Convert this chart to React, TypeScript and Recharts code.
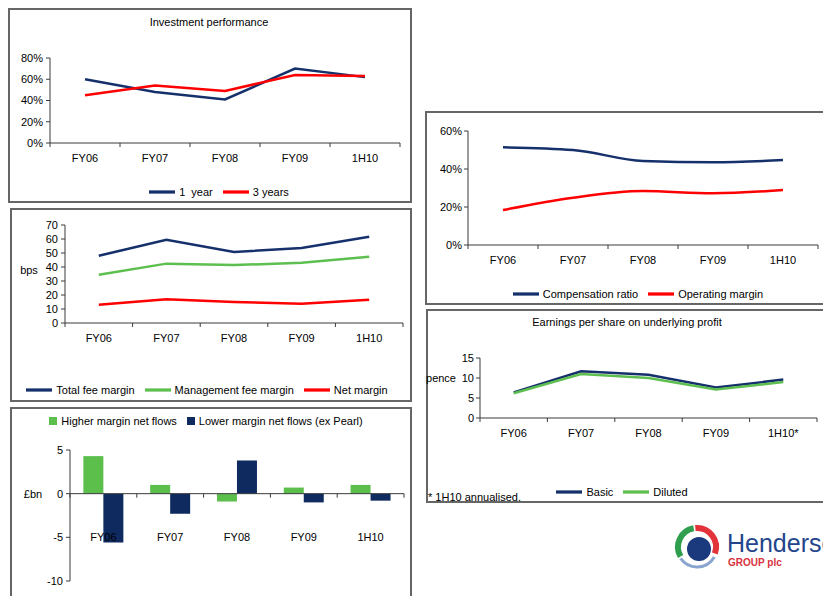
import React from "react";
import {
  Bar,
  BarChart,
  Legend,
  Line,
  LineChart,
  ReferenceLine,
  XAxis,
  YAxis,
} from "recharts";

const FONT = '"Liberation Sans", Arial, sans-serif';
const NAVY = "#16306c";
const RED = "#ff0000";
const GREEN = "#5dbf4f";
const BAR_GREEN = "#5cbf4c";
const BAR_NAVY = "#0e2a5f";
const AXIS = "#3a3a3a";
const BORDER = "#666666";

// categories
const years = ["FY06", "FY07", "FY08", "FY09", "1H10"];
const epsYears = ["FY06", "FY07", "FY08", "FY09", "1H10*"];

// investment performance (%)
const perf1Year = [60, 48, 41, 70, 62];
const perf3Years = [45, 54, 49, 64, 63];
const perfTicks = [0, 20, 40, 60, 80];

// margins (bps)
const totalFeeMargin = [48, 59.5, 50.7, 53.6, 61.6];
const mgmtFeeMargin = [34.5, 42.4, 41.4, 43, 47.3];
const netMargin = [13, 17, 15, 13.8, 16.6];
const bpsTicks = [0, 10, 20, 30, 40, 50, 60, 70];

// net flows (£bn)
const higherFlows = [4.3, 1.0, -0.9, 0.7, 1.0];
const lowerFlows = [-5.6, -2.3, 3.8, -1.0, -0.8];
const flowTicks = [-10, -5, 0, 5];

// ratios (%)
const compRatio = [51.4, 50, 44.2, 43.5, 44.7];
const opMargin = [18.4, 24.9, 28.4, 27.2, 28.9];
const ratioTicks = [0, 20, 40, 60];

// EPS (pence)
const epsBasic = [6.4, 11.7, 10.8, 7.6, 9.6];
const epsDiluted = [6.2, 11.0, 10.0, 7.1, 9.0];
const epsTicks = [0, 5, 10, 15];

const perfData = years.map((y, i) => ({ y, one: perf1Year[i], three: perf3Years[i] }));
const marginData = years.map((y, i) => ({
  y,
  total: totalFeeMargin[i],
  mgmt: mgmtFeeMargin[i],
  net: netMargin[i],
}));
const flowData = years.map((y, i) => ({ y, hi: higherFlows[i], lo: lowerFlows[i] }));
const ratioData = years.map((y, i) => ({ y, comp: compRatio[i], op: opMargin[i] }));
const epsData = epsYears.map((y, i) => ({ y, basic: epsBasic[i], diluted: epsDiluted[i] }));

// legend order = series order
const seriesOrder = ["one", "three", "total", "mgmt", "net", "hi", "lo", "comp", "op", "basic", "diluted"];
const byOrder = (item: any) => seriesOrder.indexOf(String(item.dataKey));

type Box = { L: number; T: number; W: number; H: number };
type Plot = { l: number; t: number; r: number; b: number };

const XH = 20;

function geom(box: Box, plot: Plot) {
  return {
    width: box.W,
    height: box.H,
    margin: {
      top: plot.t - box.T,
      right: box.L + box.W - plot.r,
      bottom: box.T + box.H - plot.b - XH,
      left: 0,
    },
    yWidth: plot.l - box.L,
    half: (plot.r - plot.l) / 10,
  };
}

function CatTick(props: any) {
  const { x, y, payload, index, half, dy, lineDy = 0 } = props;
  return (
    <g>
      <line x1={x - half} x2={x - half} y1={y + lineDy} y2={y + lineDy + 4} stroke={AXIS} />
      {index === 4 && (
        <line x1={x + half} x2={x + half} y1={y + lineDy} y2={y + lineDy + 4} stroke={AXIS} />
      )}
      <text
        x={x}
        y={y + dy}
        textAnchor="middle"
        dominantBaseline="central"
        fontSize={11}
        fontFamily={FONT}
        fill="#000"
      >
        {payload.value}
      </text>
    </g>
  );
}

const tickFont = { fontSize: 11, fontFamily: FONT, fill: "#000" };

const legendText = (value: string) => (
  <span style={{ color: "#000", fontSize: 11, fontFamily: FONT, whiteSpace: "pre" }}>{value}</span>
);

function legendStyle(box: Box, cx: number, cy: number) {
  return {
    top: cy - box.T - 13,
    left: cx - box.L - 200,
    width: 400,
    lineHeight: "26px",
  };
}

function Frame({ box, children }: { box: Box; children: React.ReactNode }) {
  return (
    <div
      style={{
        position: "absolute",
        left: box.L,
        top: box.T,
        width: box.W,
        height: box.H,
      }}
    >
      <div
        style={{
          position: "absolute",
          inset: 0,
          border: `2px solid ${BORDER}`,
          boxSizing: "border-box",
          pointerEvents: "none",
        }}
      />
      <div style={{ position: "absolute", left: 0, top: 0 }}>{children}</div>
    </div>
  );
}

function Txt({
  x,
  y,
  anchor = "middle",
  children,
}: {
  x: number;
  y: number;
  anchor?: "start" | "middle" | "end";
  children: React.ReactNode;
}) {
  const tx = anchor === "start" ? "0" : anchor === "end" ? "-100%" : "-50%";
  return (
    <div
      style={{
        position: "absolute",
        left: x,
        top: y,
        transform: `translate(${tx}, -50%)`,
        whiteSpace: "nowrap",
        fontSize: 11,
        fontFamily: FONT,
        color: "#000",
        lineHeight: "13px",
      }}
    >
      {children}
    </div>
  );
}

const box1: Box = { L: 8, T: 8, W: 404, H: 195 };
const plot1: Plot = { l: 50, t: 58, r: 400, b: 143 };
const box2: Box = { L: 10, T: 208, W: 402, H: 194 };
const plot2: Plot = { l: 65, t: 225, r: 403, b: 323 };
const box3: Box = { L: 10, T: 407, W: 402, H: 200 };
const plot3: Plot = { l: 70, t: 450, r: 404, b: 581 };
const box4: Box = { L: 425, T: 111, W: 410, H: 194 };
const plot4: Plot = { l: 468, t: 131, r: 818, b: 245 };
const box5: Box = { L: 426, T: 309, W: 410, H: 194 };
const plot5: Plot = { l: 480, t: 358, r: 817, b: 418 };

function PerfChart() {
  const g = geom(box1, plot1);
  return (
    <LineChart width={g.width} height={g.height} data={perfData} margin={g.margin}>
      <XAxis
        dataKey="y"
        scale="band"
        interval={0}
        height={XH}
        tickSize={0}
        tickMargin={0}
        stroke={AXIS}
        tick={(p: any) => <CatTick {...p} half={g.half} dy={15} />}
      />
      <YAxis
        width={g.yWidth}
        domain={[0, 80]}
        ticks={perfTicks}
        interval={0}
        tickFormatter={(v: number) => `${v}%`}
        tickSize={4}
        tickMargin={3}
        stroke={AXIS}
        tick={tickFont}
      />
      <Legend
        layout="horizontal"
        verticalAlign="middle"
        align="center"
        iconType="plainline"
        iconSize={26}
        itemSorter={byOrder}
        formatter={legendText}
        wrapperStyle={legendStyle(box1, 224, 191)}
      />
      <Line dataKey="one" name="1  year" stroke={NAVY} strokeWidth={2.5} dot={false} isAnimationActive={false} />
      <Line dataKey="three" name="3 years" stroke={RED} strokeWidth={2.5} dot={false} isAnimationActive={false} />
    </LineChart>
  );
}

function MarginChart() {
  const g = geom(box2, plot2);
  return (
    <LineChart width={g.width} height={g.height} data={marginData} margin={g.margin}>
      <XAxis
        dataKey="y"
        scale="band"
        interval={0}
        height={XH}
        tickSize={0}
        tickMargin={0}
        stroke={AXIS}
        tick={(p: any) => <CatTick {...p} half={g.half} dy={15} />}
      />
      <YAxis
        width={g.yWidth}
        domain={[0, 70]}
        ticks={bpsTicks}
        interval={0}
        tickSize={4}
        tickMargin={3}
        stroke={AXIS}
        tick={tickFont}
      />
      <Legend
        layout="horizontal"
        verticalAlign="middle"
        align="center"
        iconType="plainline"
        iconSize={26}
        itemSorter={byOrder}
        formatter={legendText}
        wrapperStyle={legendStyle(box2, 212, 389)}
      />
      <Line dataKey="total" name="Total fee margin" stroke={NAVY} strokeWidth={2.5} dot={false} isAnimationActive={false} />
      <Line dataKey="mgmt" name="Management fee margin" stroke={GREEN} strokeWidth={2.5} dot={false} isAnimationActive={false} />
      <Line dataKey="net" name="Net margin" stroke={RED} strokeWidth={2.5} dot={false} isAnimationActive={false} />
    </LineChart>
  );
}

function FlowChart() {
  const g = geom(box3, plot3);
  const plotH = plot3.b - plot3.t;
  const zeroUp = (plotH * 10) / 15;
  return (
    <BarChart
      width={g.width}
      height={g.height}
      data={flowData}
      margin={g.margin}
      barCategoryGap="20%"
      barGap={0}
    >
      <XAxis
        dataKey="y"
        interval={0}
        height={XH}
        tickSize={0}
        tickMargin={0}
        axisLine={false}
        tick={(p: any) => <CatTick {...p} half={g.half} dy={-44} lineDy={-zeroUp} />}
      />
      <YAxis
        width={g.yWidth}
        domain={[-10, 5]}
        ticks={flowTicks}
        interval={0}
        tickSize={4}
        tickMargin={3}
        stroke={AXIS}
        tick={tickFont}
      />
      <ReferenceLine y={0} stroke={AXIS} />
      <Legend
        layout="horizontal"
        verticalAlign="middle"
        align="center"
        iconType="square"
        iconSize={8}
        itemSorter={byOrder}
        formatter={legendText}
        wrapperStyle={legendStyle(box3, 211, 420)}
      />
      <Bar dataKey="hi" name="Higher margin net flows" fill={BAR_GREEN} isAnimationActive={false} />
      <Bar dataKey="lo" name="Lower margin net flows (ex Pearl)" fill={BAR_NAVY} isAnimationActive={false} />
    </BarChart>
  );
}

function RatioChart() {
  const g = geom(box4, plot4);
  return (
    <LineChart width={g.width} height={g.height} data={ratioData} margin={g.margin}>
      <XAxis
        dataKey="y"
        scale="band"
        interval={0}
        height={XH}
        tickSize={0}
        tickMargin={0}
        stroke={AXIS}
        tick={(p: any) => <CatTick {...p} half={g.half} dy={15} />}
      />
      <YAxis
        width={g.yWidth}
        domain={[0, 60]}
        ticks={ratioTicks}
        interval={0}
        tickFormatter={(v: number) => `${v}%`}
        tickSize={4}
        tickMargin={2}
        stroke={AXIS}
        tick={tickFont}
      />
      <Legend
        layout="horizontal"
        verticalAlign="middle"
        align="center"
        iconType="plainline"
        iconSize={26}
        itemSorter={byOrder}
        formatter={legendText}
        wrapperStyle={legendStyle(box4, 643, 293)}
      />
      <Line type="monotone" dataKey="comp" name="Compensation ratio" stroke={NAVY} strokeWidth={2.5} dot={false} isAnimationActive={false} />
      <Line type="monotone" dataKey="op" name="Operating margin" stroke={RED} strokeWidth={2.5} dot={false} isAnimationActive={false} />
    </LineChart>
  );
}

function EpsChart() {
  const g = geom(box5, plot5);
  return (
    <LineChart width={g.width} height={g.height} data={epsData} margin={g.margin}>
      <XAxis
        dataKey="y"
        scale="band"
        interval={0}
        height={XH}
        tickSize={0}
        tickMargin={0}
        stroke={AXIS}
        tick={(p: any) => <CatTick {...p} half={g.half} dy={15} />}
      />
      <YAxis
        width={g.yWidth}
        domain={[0, 15]}
        ticks={epsTicks}
        interval={0}
        tickSize={4}
        tickMargin={2}
        stroke={AXIS}
        tick={tickFont}
      />
      <Legend
        layout="horizontal"
        verticalAlign="middle"
        align="center"
        iconType="plainline"
        iconSize={26}
        itemSorter={byOrder}
        formatter={legendText}
        wrapperStyle={legendStyle(box5, 627, 491)}
      />
      <Line dataKey="basic" name="Basic" stroke={NAVY} strokeWidth={2.5} dot={false} isAnimationActive={false} />
      <Line dataKey="diluted" name="Diluted" stroke={GREEN} strokeWidth={2.5} dot={false} isAnimationActive={false} />
    </LineChart>
  );
}

function Logo() {
  const cx = 697;
  const cy = 547;
  const arc = (r: number, a0: number, a1: number) => {
    const p = (a: number) => [cx + r * Math.cos((a * Math.PI) / 180), cy + r * Math.sin((a * Math.PI) / 180)];
    const [x0, y0] = p(a0);
    const [x1, y1] = p(a1);
    return `M${x0},${y0} A${r},${r} 0 0 1 ${x1},${y1}`;
  };
  return (
    <svg width={823} height={596} style={{ position: "absolute", left: 0, top: 0, pointerEvents: "none" }}>
      <path d={arc(19, 150, 260)} stroke="#2f9e4f" strokeWidth={6} fill="none" />
      <path d={arc(19, 265, 380)} stroke="#e2333b" strokeWidth={6} fill="none" />
      <path d={arc(20, 30, 145)} stroke="#8aa5cf" strokeWidth={3} fill="none" />
      <circle cx={cx + 2} cy={cy + 2} r={12} fill="#1b3a7d" />
      <text x={727} y={552} fontSize={25} fontFamily={FONT} fill="#24458c">
        Henderson
      </text>
      <text x={728} y={566} fontSize={10} fontWeight="bold" fontFamily={FONT} fill="#d8323c">
        GROUP plc
      </text>
    </svg>
  );
}

export default function App() {
  return (
    <div
      style={{
        position: "absolute",
        left: 0,
        top: 0,
        width: 823,
        height: 596,
        overflow: "hidden",
        background: "#fff",
        fontFamily: FONT,
      }}
    >
      <Frame box={box1}>
        <PerfChart />
      </Frame>
      <Frame box={box2}>
        <MarginChart />
      </Frame>
      <Frame box={box3}>
        <FlowChart />
      </Frame>
      <Frame box={box4}>
        <RatioChart />
      </Frame>
      <Frame box={box5}>
        <EpsChart />
      </Frame>
      <Txt x={209} y={22}>Investment performance</Txt>
      <Txt x={29} y={270}>bps</Txt>
      <Txt x={33} y={494}>£bn</Txt>
      <Txt x={627} y={322}>Earnings per share on underlying profit</Txt>
      <Txt x={456} y={378} anchor="end">pence</Txt>
      <Txt x={428} y={497} anchor="start">* 1H10 annualised.</Txt>
      <Logo />
    </div>
  );
}
